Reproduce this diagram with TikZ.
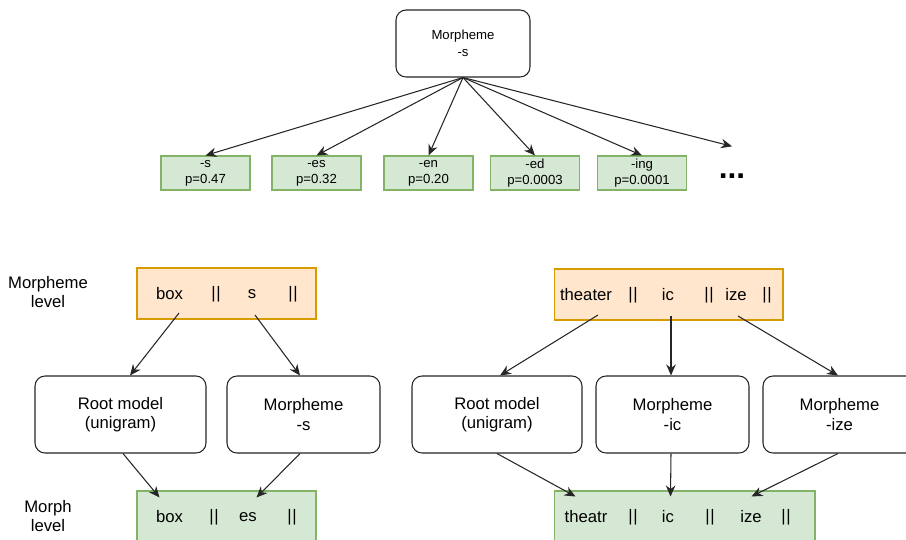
\documentclass[tikz,border=0pt]{standalone}
\usepackage{fontspec}
\setmainfont{Liberation Sans}
\usepackage{xcolor}
\usepackage{tikz}
\usetikzlibrary{positioning,arrows.meta,calc}

\definecolor{probfill}{HTML}{D5E8D4}
\definecolor{probline}{HTML}{82B366}
\definecolor{levelfill}{HTML}{FFE6CC}
\definecolor{levelline}{HTML}{D79B00}

\newcommand{\bars}{|\kern0.3pt|}

\begin{document}
\begin{tikzpicture}[x=0.02cm, y=-0.02cm,
    model/.style={draw=black!85, fill=white, line width=0.6pt, rounded corners=2mm,
        minimum height=1.54cm, align=center, font=\fontsize{9.5}{11}\selectfont},
    prob/.style={draw=probline, fill=probfill, line width=0.6pt, minimum width=1.78cm,
        minimum height=0.68cm, align=center, inner sep=0pt, font=\fontsize{7.5}{9}\selectfont},
    morphrow/.style={draw=probline, fill=probfill, line width=0.6pt, minimum height=1.02cm},
    morphemerow/.style={draw=levelline, fill=levelfill, line width=0.6pt, minimum height=1.02cm},
    word/.style={inner sep=0pt, font=\fontsize{9.5}{11}\selectfont},
    side/.style={align=center, font=\fontsize{9.5}{11}\selectfont},
    arr/.style={-{Stealth[length=2.2mm,width=1.9mm]}, draw=black!85, line width=0.6pt}]
    \useasboundingbox (0,0) rectangle (906,539);

    % Distribution of the morpheme
    \node[model, minimum width=2.68cm, minimum height=1.34cm, font=\fontsize{7.5}{9.6}\selectfont]
        (top) at (463,43.5) {Morpheme\\-s};
    \node[prob] (ps) at (205.5,173) {-s\\p=0.47};
    \node[prob] (pes) at (316.5,173) {-es\\p=0.32};
    \node[prob] (pen) at (428.5,173) {-en\\p=0.20};
    \node[prob] (ped) at (535,173) {-ed\\p=0.0003};
    \node[prob] (ping) at (642,173) {-ing\\p=0.0001};
    \node[inner sep=0pt, font=\fontsize{18}{18}\bfseries] (dots) at (732,176) {...};

    \foreach \p in {ps,pes,pen,ped,ping}
        \draw[arr] (top.south) -- (\p.north);
    \draw[arr] (top.south) -- ($(dots.north)+(0,-27)$);

    % Levels
    \node[side] (mlevel) at (48,292) {Morpheme\\level};
    \node[side] (flevel) at (48,516) {Morph\\level};

    % box + s
    \node[morphemerow, minimum width=3.58cm] (boxs) at (226.5,293.5) {};
    \node[word] (wbox) at (169.5,294) {box};
    \node[word] at (216,294) {\bars};
    \node[word] (ws) at (252,294) {s};
    \node[word] at (293,294) {\bars};

    \node[model, minimum width=3.42cm] (root1) at (120.5,414.5) {Root model\\(unigram)};
    \node[model, minimum width=3.06cm] (mors) at (303.5,414.5) {Morpheme\\-s};

    \node[morphrow, minimum width=3.58cm] (boxes) at (226.5,516.5) {};
    \node[word] at (169.5,517) {box};
    \node[word] at (214,517) {\bars};
    \node[word] at (248,517) {es};
    \node[word] at (292,517) {\bars};

    \coordinate (fromBox) at (179,313);
    \coordinate (fromS) at (255,315);
    \draw[arr] (fromBox) -- ($(root1.north)+(9.5,0)$);
    \draw[arr] (fromS) -- ($(mors.north)+(-3.5,0)$);
    \draw[arr] ($(root1.south)+(2.5,0)$) -- ($(boxes.north west)+(23,7)$);
    \draw[arr] ($(mors.south)+(-3.5,0)$) -- ($(boxes.north west)+(120,7)$);

    % theater + ic + ize
    \node[morphemerow, minimum width=4.58cm] (theaterize) at (668.5,294.5) {};
    \node[word] at (586,295) {theater};
    \node[word] at (633,295) {\bars};
    \node[word] at (668,295) {ic};
    \node[word] at (709,295) {\bars};
    \node[word] at (736,295) {ize};
    \node[word] at (767,295) {\bars};

    \node[model, minimum width=3.4cm] (root2) at (497,414.5) {Root model\\(unigram)};
    \node[model, minimum width=3.06cm] (moric) at (672.5,414.5) {Morpheme\\-ic};
    \node[model, minimum width=3.06cm] (morize) at (839.5,414.5) {Morpheme\\-ize};

    \node[morphrow, minimum width=5.22cm] (theatrize) at (684.5,516.5) {};
    \node[word] at (586,517) {theatr};
    \node[word] at (633,517) {\bars};
    \node[word] at (668,517) {ic};
    \node[word] at (710,517) {\bars};
    \node[word] at (751,517) {ize};
    \node[word] at (786,517) {\bars};

    \coordinate (fromTheater) at (598,315);
    \coordinate (fromIc) at (671,316);
    \coordinate (fromIze) at (738,316);
    \draw[arr] (fromTheater) -- ($(root2.north)+(3,0)$);
    \draw[arr] (fromIc) -- ($(moric.north)+(-1.5,0)$);
    \draw[arr] (fromIze) -- ($(morize.north)+(-1.5,0)$);
    \draw[arr] (root2.south) -- ($(theatrize.north west)+(22,6)$);
    \draw[arr] ($(moric.south)+(-1.5,0)$) -- ($(theatrize.north west)+(117,6)$);
    \draw[arr] ($(morize.south)+(-1.5,0)$) -- ($(theatrize.north west)+(198,6)$);
\end{tikzpicture}
\end{document}
